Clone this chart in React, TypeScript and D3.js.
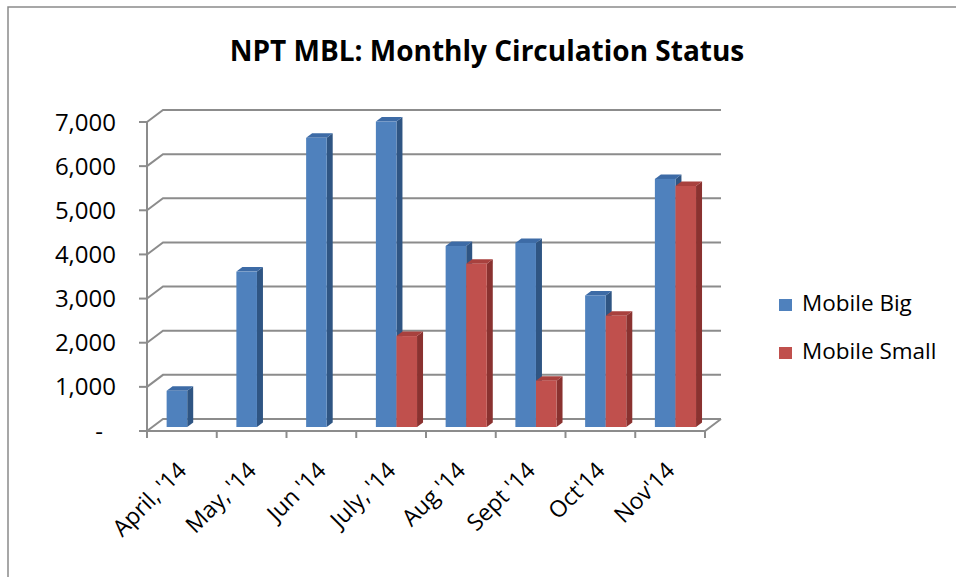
import React from "react";
import { scaleBand, scaleLinear, format } from "d3";

const categories = ["April, '14", "May, '14", "Jun '14", "July, '14", "Aug '14", "Sept '14", "Oct'14", "Nov'14"];
const mobileBig = [820, 3520, 6550, 6920, 4100, 4170, 2980, 5620];
const mobileSmall = [0, 0, 0, 2060, 3700, 1050, 2520, 5460];
const seriesNames = ["Mobile Big", "Mobile Small"];
const yTicks = [0, 1000, 2000, 3000, 4000, 5000, 6000, 7000];

const W = 956;
const H = 577;
const font = "'Open Sans', 'Liberation Sans', sans-serif";
const grid = "#8c8c8c";

// 3d look: back wall offset and bar depth
const DX = 16;
const DY = -12;
const FRONT = 1 / 3; // bars' front face position in depth
const BDX = 6;
const BDY = -4.5;

const colors = [
  { front: "#4f81bd", side: "#2f5583", top: "#3d6ba6" },
  { front: "#c0504d", side: "#8a3230", top: "#a8413e" }
];

const App = () => {
  const x0 = 147;
  const x1 = 705;
  const y = scaleLinear().domain([0, 7000]).range([431, 122]);
  const x = scaleBand().domain(categories).range([x0, x1]).paddingInner(0.41).paddingOuter(0.205);
  const xs = scaleBand().domain(seriesNames).range([0, x.bandwidth()]);
  const fmt = format(",");

  const ox = DX * FRONT;
  const oy = DY * FRONT;

  const bars: JSX.Element[] = [];
  categories.forEach((c, i) => {
    [mobileBig[i], mobileSmall[i]].forEach((v, s) => {
      if (!v) return;
      const left = (x(c) as number) + (xs(seriesNames[s]) as number) + ox;
      const right = left + xs.bandwidth();
      const top = y(v) + oy;
      const bot = y(0) + oy;
      const col = colors[s];
      bars.push(
        <g key={c + s}>
          <polygon
            points={`${right},${top} ${right + BDX},${top + BDY} ${right + BDX},${bot + BDY} ${right},${bot}`}
            fill={col.side}
          />
          <polygon
            points={`${left},${top} ${right},${top} ${right + BDX},${top + BDY} ${left + BDX},${top + BDY}`}
            fill={col.top}
          />
          <rect x={left} y={top} width={right - left} height={bot - top} fill={col.front} />
        </g>
      );
    });
  });

  return (
    <svg width={W} height={H} style={{ position: "absolute", left: 0, top: 0, background: "#fff" }}>
      {/* outer border */}
      <path d={`M8,${H} L8,7 L${W},7`} fill="none" stroke="#8a8a8a" strokeWidth={1.5} />

      <text x={487} y={61} textAnchor="middle" fontFamily={font} fontWeight="bold" fontSize={28} fill="#000">
        NPT MBL: Monthly Circulation Status
      </text>

      {/* gridlines on the wall */}
      {yTicks.map(t => (
        <path
          key={t}
          d={`M${x0},${y(t)} L${x0 + DX},${y(t) + DY} L${x1 + DX},${y(t) + DY}`}
          fill="none"
          stroke={grid}
          strokeWidth={2}
        />
      ))}
      {/* floor front edge + right edge */}
      <path d={`M${x0},${y(0)} L${x1},${y(0)} L${x1 + DX},${y(0) + DY}`} fill="none" stroke={grid} strokeWidth={2} />
      {/* y axis */}
      <line x1={x0} x2={x0} y1={y(7000)} y2={y(0)} stroke={grid} strokeWidth={2} />
      {yTicks.map(t => (
        <g key={"t" + t}>
          <line x1={x0 - 8} x2={x0} y1={y(t)} y2={y(t)} stroke={grid} strokeWidth={2} />
          <text
            x={t === 0 ? 103 : 116}
            y={y(t) + 8.5}
            textAnchor="end"
            fontFamily={font}
            fontSize={24}
            fill="#000"
          >
            {t === 0 ? "-" : fmt(t)}
          </text>
        </g>
      ))}
      {/* x ticks */}
      {[...categories.map(c => x(c) as number - x.step() * 0.205), x1].map((p, i) => (
        <line key={"x" + i} x1={p} x2={p} y1={y(0)} y2={y(0) + 7} stroke={grid} strokeWidth={2} />
      ))}

      {bars}

      {categories.map(c => {
        const cx = (x(c) as number) + x.bandwidth() / 2 + 6;
        const cy = 472;
        return (
          <text
            key={"l" + c}
            transform={`translate(${cx},${cy}) rotate(-45)`}
            textAnchor="end"
            fontFamily={font}
            fontSize={23}
            fill="#000"
          >
            {c}
          </text>
        );
      })}

      {/* legend */}
      {seriesNames.map((n, i) => (
        <g key={n} transform={`translate(779,${299 + i * 48})`}>
          <rect width={13} height={12} fill={colors[i].front} />
          <text x={23} y={11.5} fontFamily={font} fontSize={22.5} fill="#000">
            {n}
          </text>
        </g>
      ))}
    </svg>
  );
};

export default App;
